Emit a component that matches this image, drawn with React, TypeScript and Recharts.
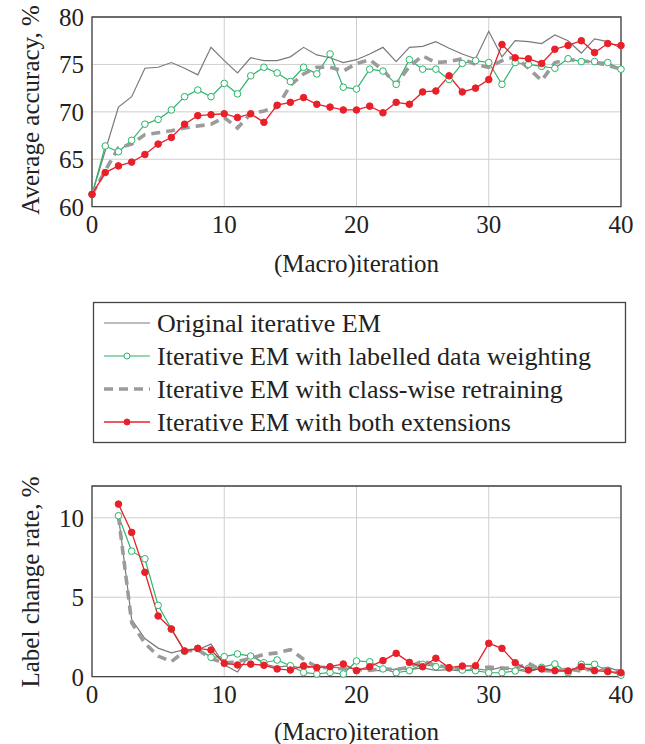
import React from 'react';
import { LineChart, Line, XAxis, YAxis, CartesianGrid, ReferenceArea } from 'recharts';

// ---------- data ----------
const iterationsTop = [0, 1, 2, 3, 4, 5, 6, 7, 8, 9, 10, 11, 12, 13, 14, 15, 16, 17, 18, 19, 20, 21, 22, 23, 24, 25, 26, 27, 28, 29, 30, 31, 32, 33, 34, 35, 36, 37, 38, 39, 40];
const accOriginal = [61.3, 65.9, 70.5, 71.6, 74.6, 74.7, 75.2, 74.6, 73.9, 76.8, 75.4, 74.1, 75.7, 75.4, 75.4, 75.8, 76.8, 76.0, 75.7, 75.2, 75.5, 76.1, 76.8, 75.3, 76.8, 76.9, 77.4, 76.7, 76.1, 75.6, 78.5, 75.8, 77.5, 77.4, 77.2, 78.1, 77.5, 76.2, 77.7, 77.4, 76.7];
const accWeighting = [61.3, 66.4, 65.8, 67.0, 68.7, 69.2, 70.2, 71.6, 72.3, 71.6, 73.0, 71.9, 73.8, 74.7, 74.1, 73.2, 74.7, 74.0, 76.1, 72.6, 72.4, 74.5, 74.3, 72.9, 75.5, 74.5, 74.5, 73.4, 75.1, 75.4, 75.2, 72.9, 75.2, 75.0, 74.8, 74.6, 75.6, 75.3, 75.3, 75.2, 74.5];
const accClassWise = [61.3, 63.8, 66.2, 66.6, 67.6, 67.8, 68.0, 68.3, 68.5, 68.7, 69.4, 68.3, 69.8, 70.1, 70.5, 72.8, 74.0, 74.7, 74.7, 74.3, 75.1, 75.5, 74.4, 72.9, 74.8, 75.9, 75.2, 75.3, 75.6, 75.0, 74.7, 75.4, 75.8, 74.6, 73.3, 75.2, 75.5, 75.4, 75.2, 74.9, 74.5];
const accBoth = [61.3, 63.6, 64.3, 64.7, 65.5, 66.6, 67.3, 68.7, 69.6, 69.7, 69.8, 69.4, 69.8, 68.9, 70.7, 71.0, 71.5, 70.8, 70.5, 70.2, 70.2, 70.6, 69.9, 71.0, 70.8, 72.1, 72.2, 73.8, 72.1, 72.5, 73.4, 77.1, 75.7, 75.6, 75.1, 76.6, 77.0, 77.5, 76.25, 77.2, 77.0];

const iterationsBottom = [2, 3, 4, 5, 6, 7, 8, 9, 10, 11, 12, 13, 14, 15, 16, 17, 18, 19, 20, 21, 22, 23, 24, 25, 26, 27, 28, 29, 30, 31, 32, 33, 34, 35, 36, 37, 38, 39, 40];
const lcrOriginal = [10.1, 3.6, 2.4, 1.8, 1.5, 1.7, 1.7, 2.05, 0.75, 0.3, 1.45, 0.8, 0.6, 0.7, 0.5, 0.7, 0.6, 0.55, 0.5, 0.45, 0.35, 0.5, 0.45, 0.55, 0.4, 0.45, 0.35, 0.5, 0.4, 0.6, 0.45, 0.3, 0.55, 0.4, 0.35, 0.5, 0.3, 0.6, 0.3];
const lcrWeighting = [10.13, 7.9, 7.42, 4.49, 3.0, 1.6, 1.78, 1.22, 1.26, 1.43, 1.3, 0.88, 1.05, 0.69, 0.27, 0.17, 0.27, 0.17, 0.99, 0.94, 0.49, 0.25, 0.38, 0.78, 0.63, 0.53, 0.42, 0.38, 0.25, 0.25, 0.36, 0.53, 0.59, 0.8, 0.25, 0.78, 0.78, 0.36, 0.1];
const lcrClassWise = [10.1, 3.4, 2.1, 1.3, 0.95, 1.6, 1.7, 1.15, 0.85, 0.95, 1.15, 1.4, 1.5, 1.7, 1.1, 0.6, 0.55, 0.5, 0.45, 0.4, 0.5, 0.45, 0.6, 1.0, 0.7, 0.6, 0.55, 0.5, 0.6, 0.55, 0.5, 0.85, 0.4, 0.35, 0.5, 0.35, 0.55, 0.45, 0.35];
const lcrBoth = [10.86, 9.08, 6.57, 3.82, 3.0, 1.62, 1.78, 1.68, 0.84, 0.74, 0.79, 0.72, 0.49, 0.42, 0.69, 0.57, 0.63, 0.8, 0.38, 0.63, 1.01, 1.47, 0.9, 0.63, 1.16, 0.57, 0.67, 0.69, 2.1, 1.78, 0.88, 0.42, 0.49, 0.38, 0.36, 0.63, 0.38, 0.32, 0.25];

const xTicks = [0, 10, 20, 30, 40];
const accTicks = [60, 65, 70, 75, 80];
const lcrTicks = [0, 5, 10];

const seriesNames = [
  'Original iterative EM',
  'Iterative EM with labelled data weighting',
  'Iterative EM with class-wise retraining',
  'Iterative EM with both extensions',
];

const topRows = iterationsTop.map((x, i) => ({
  x,
  orig: accOriginal[i],
  weight: accWeighting[i],
  cls: accClassWise[i],
  both: accBoth[i],
}));
const bottomRows = iterationsBottom.map((x, i) => ({
  x,
  orig: lcrOriginal[i],
  weight: lcrWeighting[i],
  cls: lcrClassWise[i],
  both: lcrBoth[i],
}));

// ---------- styles ----------
const FONT = 'Liberation Serif, DejaVu Serif, Times New Roman, Times, serif';
const FS = 25;
const LEG_FS = 26;
const TXT = '#222';
const C_ORIG = '#7a7a7a';
const C_GREEN = '#2bb46a';
const C_DASH = '#9b9b9b';
const C_RED = '#e8202a';
const C_GRID = '#cfcfcf';
const C_FRAME = '#444';

const tickStyle = { fill: TXT, fontSize: FS, fontFamily: FONT, style: { fontFamily: FONT } };

function yTitle(text: string, cy: number) {
  return () => (
    <text
      x={30}
      y={cy}
      transform={`rotate(-90, 30, ${cy})`}
      textAnchor="middle"
      dominantBaseline="central"
      fill={TXT}
      fontSize={FS}
      style={{ fontFamily: FONT }}
    >
      {text}
    </text>
  );
}

function xTitle(text: string, cy: number) {
  return () => (
    <text
      x={356.5}
      y={cy}
      textAnchor="middle"
      dominantBaseline="central"
      fill={TXT}
      fontSize={FS}
      style={{ fontFamily: FONT }}
    >
      {text}
    </text>
  );
}

function renderLines() {
  return [
    <Line key="o" type="linear" dataKey="orig" stroke={C_ORIG} strokeWidth={1.2} dot={false} isAnimationActive={false} />,
    <Line
      key="w"
      type="linear"
      dataKey="weight"
      stroke={C_GREEN}
      strokeWidth={1.2}
      dot={{ r: 3.3, fill: '#fff', stroke: C_GREEN, strokeWidth: 1 }}
      isAnimationActive={false}
    />,
    <Line
      key="c"
      type="linear"
      dataKey="cls"
      stroke={C_DASH}
      strokeWidth={3.6}
      strokeDasharray="9 6"
      dot={false}
      isAnimationActive={false}
    />,
    <Line
      key="b"
      type="linear"
      dataKey="both"
      stroke={C_RED}
      strokeWidth={1.3}
      dot={{ r: 3.3, fill: C_RED, stroke: C_RED, strokeWidth: 1 }}
      isAnimationActive={false}
    />,
  ];
}

function Legend() {
  const rows = [33, 66, 99, 132];
  return (
    <svg width={645} height={160} style={{ position: 'absolute', left: 0, top: 290 }}>
      <rect x={93.5} y={12.5} width={532} height={140} fill="#fff" stroke={C_FRAME} strokeWidth={1.3} />
      <line x1={104} x2={150} y1={rows[0]} y2={rows[0]} stroke={C_ORIG} strokeWidth={1.2} />
      <line x1={104} x2={150} y1={rows[1]} y2={rows[1]} stroke={C_GREEN} strokeWidth={1.2} />
      <circle cx={127} cy={rows[1]} r={3} fill="#fff" stroke={C_GREEN} strokeWidth={1} />
      <line x1={104} x2={150} y1={rows[2]} y2={rows[2]} stroke={C_DASH} strokeWidth={3.6} strokeDasharray="9 6" />
      <line x1={104} x2={150} y1={rows[3]} y2={rows[3]} stroke={C_RED} strokeWidth={1.3} />
      <circle cx={127} cy={rows[3]} r={3} fill={C_RED} stroke={C_RED} strokeWidth={1} />
      {seriesNames.map((n, i) => (
        <text key={n} x={157} y={rows[i] + 8.5} fill={TXT} fontSize={LEG_FS} style={{ fontFamily: FONT }}>
          {n}
        </text>
      ))}
    </svg>
  );
}

export default function App() {
  return (
    <div
      style={{
        position: 'absolute',
        left: 0,
        top: 0,
        width: 645,
        height: 744,
        background: '#fff',
        fontFamily: FONT,
        overflow: 'hidden',
      }}
    >
      <div style={{ position: 'absolute', left: 0, top: 0 }}>
        <LineChart width={645} height={280} data={topRows} margin={{ top: 17, right: 24, bottom: 0, left: 0 }} style={{ fontFamily: FONT }}>
          <CartesianGrid stroke={C_GRID} strokeWidth={1} />
          <XAxis
            dataKey="x"
            type="number"
            domain={[0, 40]}
            ticks={xTicks}
            height={73.3}
            tickLine={false}
            axisLine={false}
            tickSize={0}
            tickMargin={9}
            tick={tickStyle}
            label={xTitle('(Macro)iteration', 263)}
          />
          <YAxis
            type="number"
            domain={[60, 80]}
            ticks={accTicks}
            width={92}
            tickLine={false}
            axisLine={false}
            tickSize={0}
            tickMargin={8}
            tick={tickStyle}
            label={yTitle('Average accuracy, %', 110)}
          />
          <ReferenceArea x1={0} x2={40} y1={60} y2={80} fill="none" stroke={C_FRAME} strokeWidth={1.3} />
          {renderLines()}
        </LineChart>
      </div>

      <Legend />

      <div style={{ position: 'absolute', left: 0, top: 460 }}>
        <LineChart width={645} height={284} data={bottomRows} margin={{ top: 26, right: 24, bottom: 0, left: 0 }} style={{ fontFamily: FONT }}>
          <CartesianGrid stroke={C_GRID} strokeWidth={1} />
          <XAxis
            dataKey="x"
            type="number"
            domain={[0, 40]}
            ticks={xTicks}
            height={67.3}
            tickLine={false}
            axisLine={false}
            tickSize={0}
            tickMargin={9}
            tick={tickStyle}
            label={xTitle('(Macro)iteration', 731 - 460)}
          />
          <YAxis
            type="number"
            domain={[0, 12]}
            ticks={lcrTicks}
            width={92}
            tickLine={false}
            axisLine={false}
            tickSize={0}
            tickMargin={8}
            tick={tickStyle}
            label={yTitle('Label change rate, %', 582 - 460)}
          />
          <ReferenceArea x1={0} x2={40} y1={0} y2={12} fill="none" stroke={C_FRAME} strokeWidth={1.3} />
          {renderLines()}
        </LineChart>
      </div>
    </div>
  );
}
